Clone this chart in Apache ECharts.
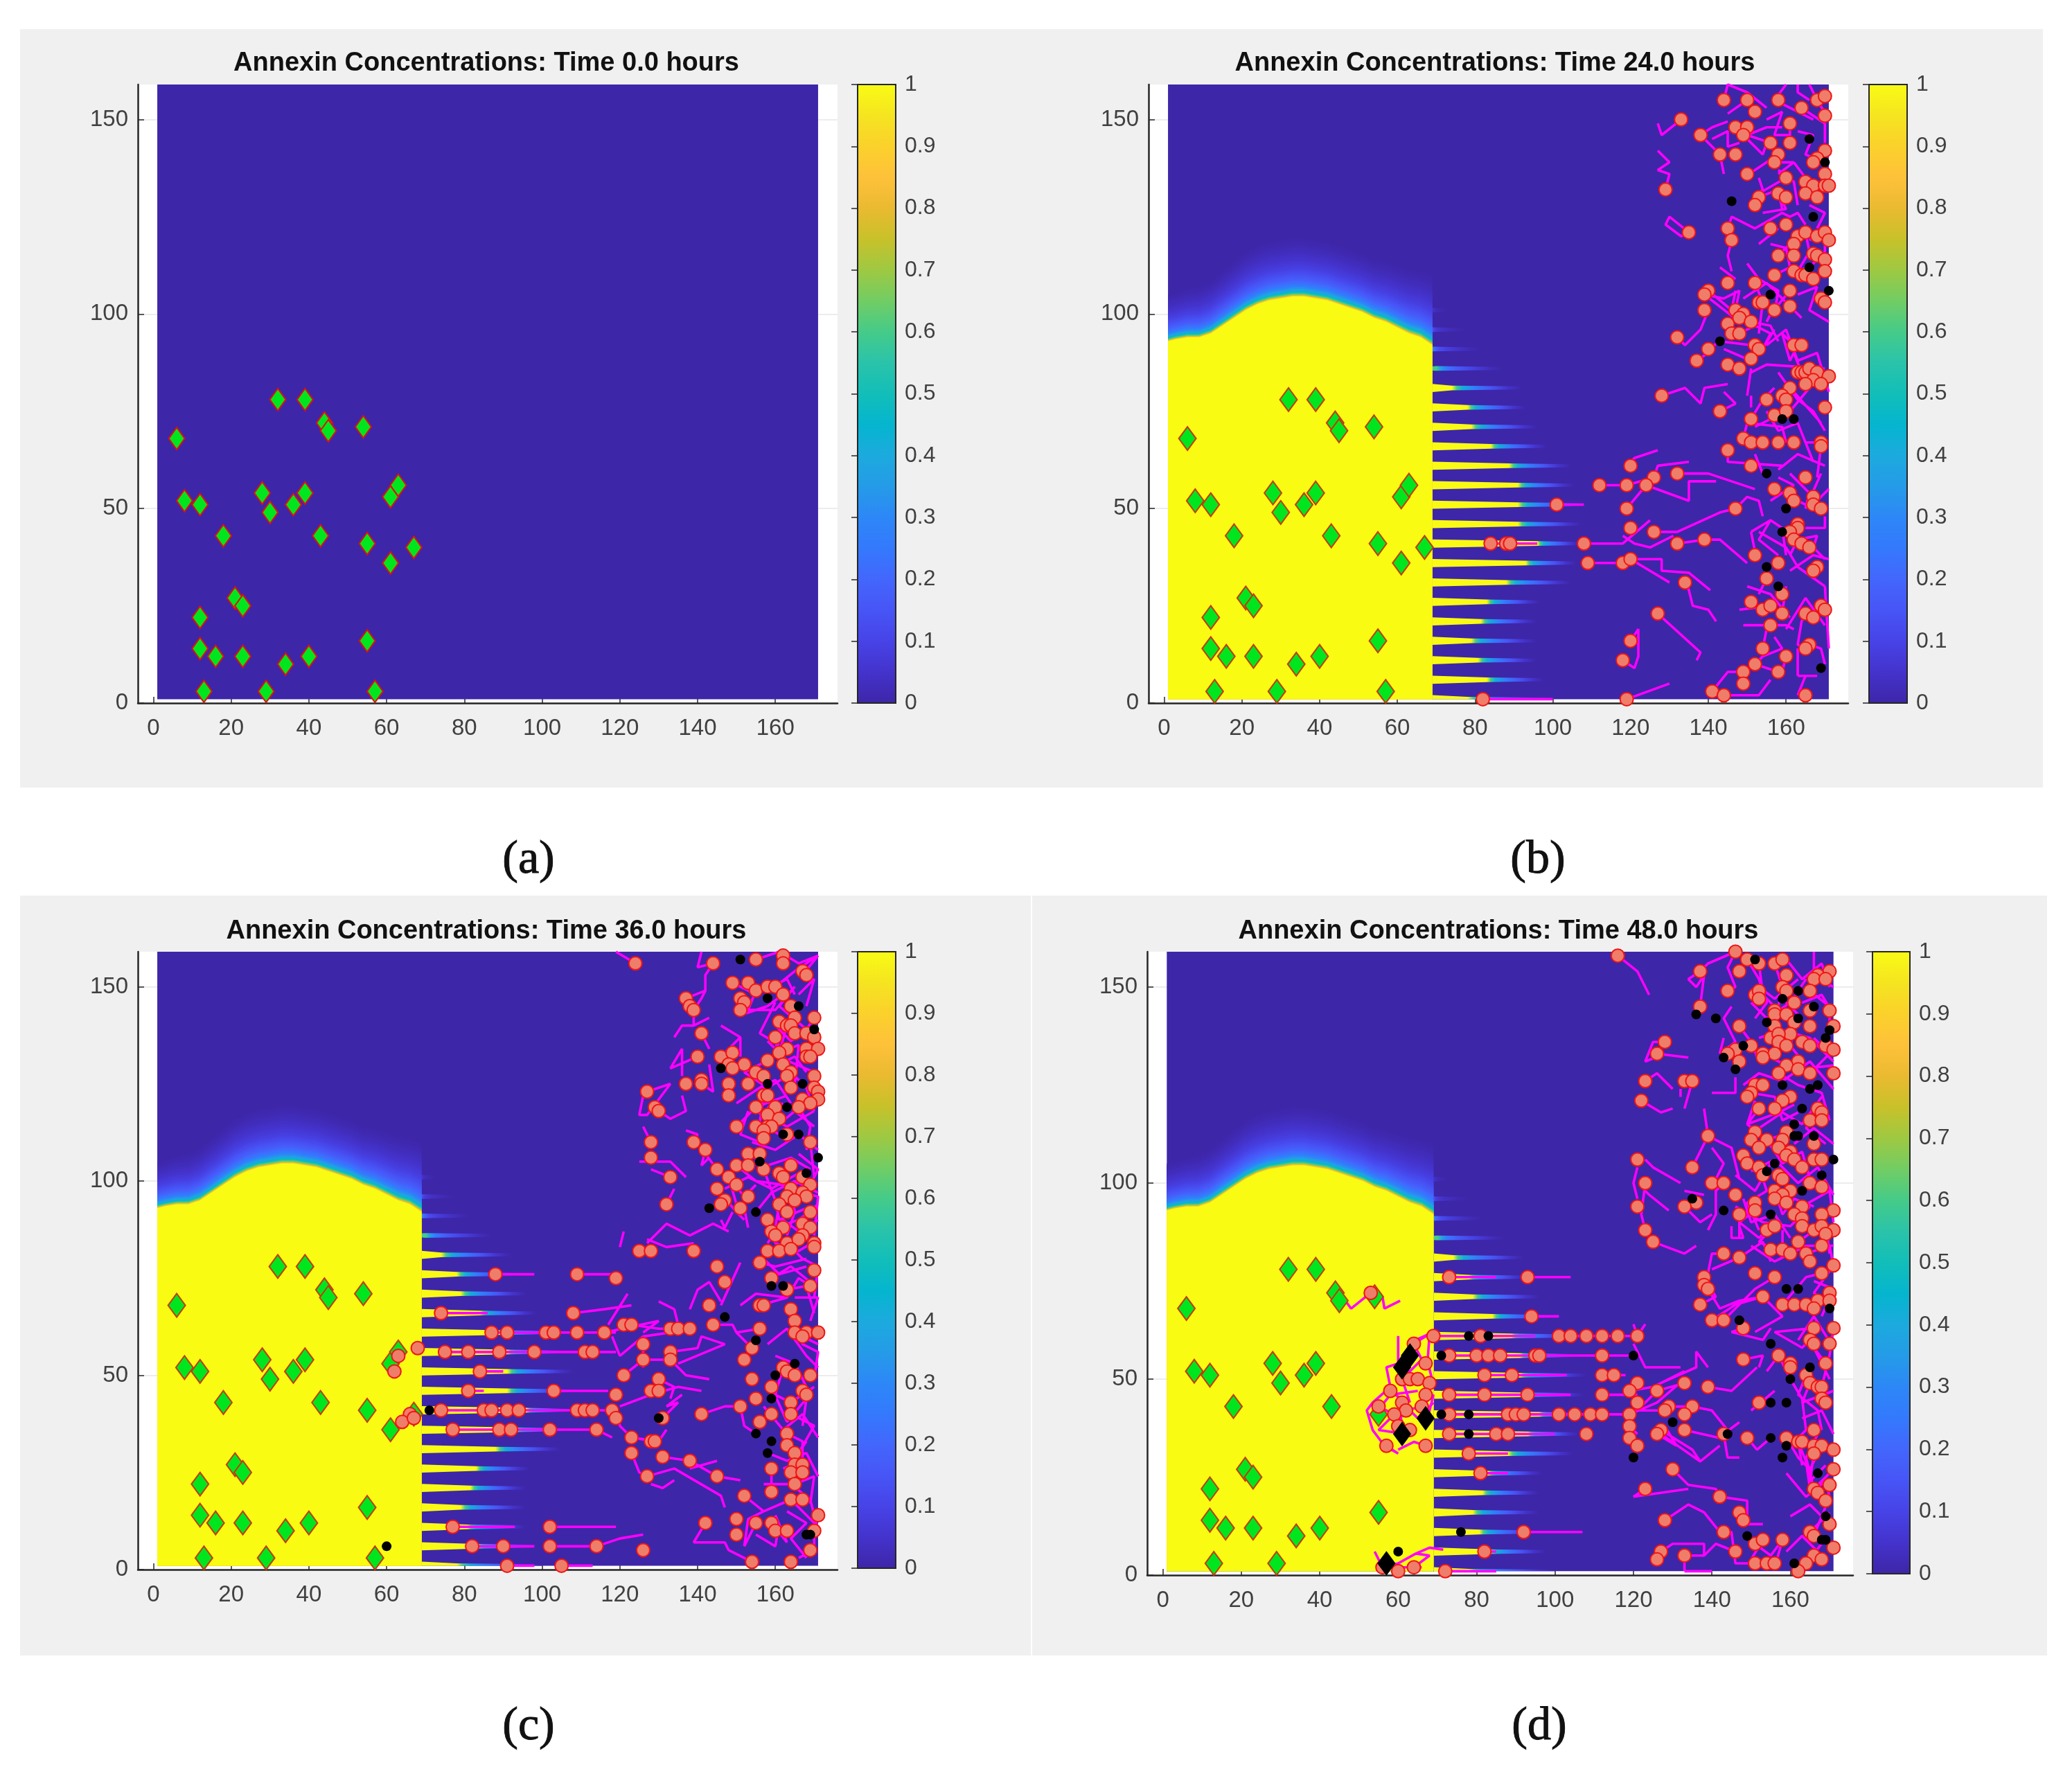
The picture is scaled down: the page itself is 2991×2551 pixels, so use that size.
<!DOCTYPE html>
<html>
<head>
<meta charset="utf-8">
<title>Annexin Concentrations</title>
<script src="https://cdn.jsdelivr.net/npm/echarts@6/dist/echarts.min.js"></script>
<style>
	html, body { margin: 0; padding: 0; background: #fff; }
	#chart { width: 2991px; height: 2551px; }
</style>
</head>
<body>
<div id="chart"></div>
<script>
// ticks
const xTicks = [0, 20, 40, 60, 80, 100, 120, 140, 160]
const yTicks = [0, 50, 100, 150]
const barTicks = [0, 0.1, 0.2, 0.3, 0.4, 0.5, 0.6, 0.7, 0.8, 0.9, 1]
const hours = ['0.0', '24.0', '36.0', '48.0']
const captions = ['(a)', '(b)', '(c)', '(d)']

// parula, sampled every 0.05
const parula = ['#3e26a8', '#4433cc', '#4743e7', '#4755f6', '#4366fc', '#3479fd', '#2d87f7', '#259be8', '#1caade', '#05b5cf', '#12beb9', '#2ac3aa', '#45cb89', '#71cd64', '#9ec942', '#c8c12a', '#eaba30', '#fec13a', '#fbd12b', '#f5e420', '#f9fb15']

const frontX = [1, 3, 6, 9, 12, 15, 18, 21, 24, 27, 30, 33, 36, 39, 42, 45, 48, 51, 54, 57, 60, 63, 66, 69]
const frontTop = [93, 93.5, 94, 94, 95, 97, 99, 101, 102.5, 103.5, 104, 104.5, 104.5, 104, 103.5, 102.5, 101.5, 100.5, 99, 98, 96.5, 95, 94, 92]
const frontFade = [12, 12, 12.5, 13, 13.5, 14, 14.5, 15, 15, 15, 15, 15, 15, 15, 15, 15, 15, 15, 15, 15.5, 16, 16.5, 17, 18]
const fadeFrac = [1, 0.96, 0.92, 0.88, 0.84, 0.8, 0.76, 0.72, 0.68, 0.64, 0.6, 0.56, 0.52, 0.48, 0.45, 0.42, 0.39, 0.36, 0.33, 0.3, 0.27, 0.245, 0.22, 0.195, 0.175, 0.155, 0.135, 0.12, 0.105, 0.09, 0.078, 0.066, 0.055, 0.045, 0.036, 0.028, 0.02, 0.013, 0.007]
const fadeValue = [0.004, 0.008, 0.012, 0.017, 0.022, 0.028, 0.034, 0.041, 0.048, 0.056, 0.065, 0.075, 0.086, 0.098, 0.11, 0.122, 0.135, 0.15, 0.165, 0.18, 0.2, 0.22, 0.24, 0.265, 0.29, 0.32, 0.35, 0.38, 0.41, 0.45, 0.49, 0.53, 0.58, 0.63, 0.68, 0.74, 0.8, 0.86, 0.92]

// finger rows right of the yellow block
const fingerY = [1, 6, 11, 16, 21, 26, 31, 36, 41, 46, 51, 56, 61, 66, 71, 76, 81, 86, 91, 96, 101]
const fingerYellowEnd = [78, 83, 80.7, 79, 81.5, 83, 88, 93, 96, 91, 91, 91, 88.7, 84, 79, 78, 74, 70, 69, 69, 69]
const fingerFadeEnd = [100, 97.6, 95.8, 95.8, 95.8, 96.7, 104.6, 106, 107, 107.3, 108, 105.5, 104.6, 98.5, 96, 93, 92, 87, 81.5, 78, 73]
const fingerStart = [1, 1, 1, 1, 1, 1, 1, 1, 1, 1, 1, 1, 1, 1, 1, 1, 1, 0.6, 0.3, 0.14, 0.07]

// green seed sites, same in all panels
const diamonds = [6,68, 8,52, 12,51, 18,43, 21,27, 23,25, 12,22, 12,14, 16,12, 23,12, 13,3, 29,3, 34,10, 40,12, 32,78, 39,78, 44,72, 45,70, 54,71, 28,54, 30,49, 36,51, 39,54, 43,43, 55,41, 61,53, 63,56, 67,40, 61,36, 55,16, 57,3]
const deadDiamondsD = [63,56, 61,53, 67,40, 61,36, 57,3]

const cellsB = [144,155, 150,155, 158,155, 164,153, 168,155, 170,156, 152,152, 170,151, 133,150, 147,148, 150,148, 161,149, 138,146, 149,146, 156,144, 161,144, 143,141, 147,141, 158,141, 170,142, 168,140, 157,139, 167,139, 150,136, 170,136, 160,135, 165,134, 167,133, 170,133, 171,133, 129,132, 158,131, 165,131, 153,130, 160,130, 168,130, 152,128, 135,121, 145,122, 146,119, 156,122, 160,123, 163,120, 165,121, 168,120, 170,121, 171,119, 162,118, 158,115, 162,115, 167,115.5, 168,115, 170,114, 162,111, 170,111, 157,110, 164,110, 165,110, 167,109, 145,108, 152,108, 161,106, 140,106, 139,105, 169,104, 170,103, 153,103, 154,103, 157,101, 161,102, 139,101, 147,101, 149,100, 148,99, 151,98, 145,97.5, 146,95, 148,95, 132,94, 152,92, 140,91, 153,91, 162,92, 164,92, 151,88.5, 137,88, 145,87, 148,86, 163,85, 164,85, 165,85, 166,86, 168,85, 171,84, 167,83, 165,82, 169,82, 161,81, 159,79, 128,79,
	143,75, 155,78, 160,78, 170,76, 151,73, 157,74, 160,75, 149,68, 151,67, 154,67, 158,67, 162,67, 169,67, 169,66, 145,65, 151,61, 120,61, 126,58, 132,59, 112,56, 119,56, 124,56, 165,58, 157,55, 161,54, 167,53, 162,52, 167,51, 169,50, 147,50, 119,50, 101,51, 120,45, 126,44, 163,46, 163,45, 161,44, 162,42, 164,41, 166,40, 132,41, 139,42, 108,41, 84,41, 88,41, 89,41, 152,38, 158,36, 168,35, 167,34, 109,36, 118,36, 120,37, 155,32, 134,31, 159,28, 151,26, 154,24, 156,25, 159,23, 165,23, 167,22, 169,25, 170,24, 127,23, 156,20, 154,14, 166,15, 165,14, 120,16, 118,11, 160,12, 152,10, 149,8, 158,8, 149,5, 141,3, 144,2, 165,2, 119,1, 82,1]
const blackB = [166,145, 170,139, 146,129, 167,125, 166,112, 156,105, 171,106, 143,93, 159,73, 162,73, 155,59, 160,50, 159,44, 155,35, 158,30, 169,9]
const trailsB = [
	[82,1, 100,1], [119,1, 130,5], [84,41, 96,41], [101,51, 108,51], [108,41, 118,41, 125,47], [118,43, 121,41, 125,40, 131,43], [132,41, 139,42, 143,42, 150,36], [109,36, 118,36],
	[120,37, 128,37, 128,34, 135,33.5, 140.5,29], [120,37, 130,31], [134,31, 135,29, 136,25, 140,24, 142,21], [127,23, 138,13, 137,11], [120,16, 122,19, 122,12, 121,9, 118,11], [119,50, 124,56], [120,62, 121,63, 127,65], [112,56, 119,56, 126,58],
	[126,58, 127,61, 135,62], [132,59, 140,59, 152,55], [124,56, 135,52, 135,57, 142,57], [147,50, 150,53, 153,52, 154,48], [126,44, 132,44, 143,49, 147,50], [133,150, 128,146, 127,149], [129,132, 130,136, 127,137, 130,139, 127,142], [135,121, 133,120, 129,123, 130,125, 135,121],
	[144,155, 145,159, 150,157, 155,153], [150,155, 145,151.5], [152,152, 150,155], [138,146, 141,148, 145,149.5], [138,146, 143,141, 144,136], [141,145, 145,147, 145,143, 148,144], [156,144, 150,146, 155,148, 159,148], [150,145, 154,141, 155,144, 158,141], [161,149, 161,144], [158,141, 152,137, 150,136],
	[164,153, 167,151, 170,149, 170,144], [163,159, 163,157, 166,155], [161,153, 167,150], [157,139, 162,139, 158,136], [162,139, 165,135], [160,135, 153,131], [153,135, 154,132, 153,131], [153,130, 158,132, 159,127], [158,131, 160,127, 154,126], [145,122, 146,125, 152,122, 159,126, 161,125, 163,126, 165,123],
	[146,119, 145,115, 146,111], [143,112, 147,109], [162,118, 163,120, 158,115], [165,121, 166,116, 163,111, 162,111], [170,121, 170,116, 166,112, 162,111], [168,120, 166,119], [157,110, 161,112], [139,105, 144,104, 148,106, 147,101], [139,105, 148,98], [140,106, 146,101], [147,106, 146,101],
	[151,98, 156,97, 158,93], [132,94, 134,92, 138,96, 140,101], [152,108, 154,103, 153,95], [148,95, 152,97, 156,95, 154,91, 157,96], [140,91, 143,93, 151,92], [144,91, 151,88], [161,106, 156,100, 155,98], [162,92, 159,95, 161,88, 162,90, 164,85], [151,85, 155,87, 170,86], [137,88, 140,90], [128,79, 134,81, 138,77, 139,81, 145,82], [151,86, 150,79],
	[143,75, 147,77, 144,80], [151,79, 151,76], [151,73, 154,78, 157,81], [162,80, 169,72], [166,81, 161,75], [149,68, 150,72, 159,71, 160,67], [152,71, 156,73], [145,65, 145,62, 159,61], [152,64, 154,59], [165,67, 169,67], [169,66, 168,58],
	[161,59, 166,54, 165,50, 169,59], [156,52, 162,56, 158,58], [171,55, 167,51], [167,50, 163,52], [165,45, 170,45, 170,48], [151,44, 152,39], [151,44, 156,47, 159,45, 160,38], [156,47, 153,42, 158,38], [161,38, 163,42, 168,43, 167,40, 170,37], [161,34, 167,38, 171,37],
	[155,32, 153,28], [160,30, 159,23], [148,24, 156,25], [149,20, 160,20, 162,19], [154,14, 155,19], [165,23, 164,21, 163,15, 165,14], [157,17, 159,14, 154,12, 151,9], [160,12, 159,8], [166,15, 169,14, 170,10], [163,7, 163,14], [163,7, 168,7], [165,7, 163,2], [144,2, 153,2, 156,6], [141,3, 145,8, 149,8], [149,8, 152,10, 158,8],
	[166,159, 168,155, 171,150], [160,159, 157,155, 161,153], [155,150, 159,152, 157,146, 161,146], [163,147, 167,146, 165,141, 170,139], [158,137, 162,134, 163,128], [166,128, 170,126, 168,122], [156,118, 160,117, 161,112, 166,108], [150,113, 153,109, 158,106, 157,100], [163,105, 168,107, 166,101, 171,98], [153,118, 158,122], [149,104, 155,108, 160,103, 164,99], [155,92, 160,96, 163,88, 168,90, 171,80], [158,85, 163,78, 167,75, 170,70], [155,75, 158,70, 163,72, 167,62], [158,60, 163,64, 170,61], [153,44, 160,40, 163,35, 170,30], [160,19, 165,27, 170,20], [150,30, 156,28, 161,22], [170,30, 171,14]
]

const cellsC = [124,156, 144,156, 155,157, 162,158, 162,156, 167,154, 168,153, 149,151, 153,151, 155,149, 158,150, 160,150, 162,148, 137,147, 151,147, 152,146, 138,145, 139,144, 151,144, 164,145, 170,142, 165,142, 161,141, 163,140, 164,140, 141,138, 165,138, 168,138, 160,137, 170,137, 163,134, 168,134, 171,134, 161,133, 168,132, 169,132, 140,132, 146,132, 149,133, 158,131, 148,130, 152,130, 149,129, 162,130, 155,128, 157,127, 164,128, 163,127, 170,127, 137,125, 141,126, 141,125, 148,125, 153,125, 164,124, 170,124, 171,123, 127,123, 148,122, 157,122, 158,122, 167,121, 171,121, 169,120, 129,119, 130,118, 155,119, 160,119, 166,119, 158,117, 161,116, 150,114, 155,114, 158,114, 159,114, 157,113, 157,111, 163,112, 128,110, 139,110, 169,110, 142,108, 128,106, 153,107, 156,107, 145,103, 150,104, 153,104, 157,103, 164,104, 161,102, 162,101, 148,101, 133,101, 167,101, 150,99, 169,99, 145,98, 164,98, 167,97, 163,96, 168,96, 153,96, 165,95, 161,94, 147,95, 146,94, 132,94, 151,93, 163,92, 169,92, 158,90, 167,89, 162,88, 169,88, 159,87, 160,86, 167,86, 163,84, 166,85, 170,84,
	125,82, 128,82, 139,82, 158,82, 161,82, 164,82.5, 170,83, 156,79, 145,78, 170,77, 88,76, 109,76, 119,75, 159,75, 147,74, 169,73, 163,72, 143,68, 156,68, 157,68, 108,66, 74,66, 164,67, 165,64, 121,63, 123,63, 87,61, 91,61, 101,61, 103,61, 109,61, 116,61, 133,62, 135,62, 138,62, 144,63, 156,62, 165,61, 168,61, 167,60, 171,61, 126,58, 68,57, 75,56, 81,56, 89,56, 98,56, 111,56, 113,56, 133,56, 154,57, 126,54, 133,54, 152,54, 121,50, 84,51, 162,52, 163,51, 165,50, 169,50, 130,49, 154,49, 159,47, 128,46, 130,46, 103,46, 81,46, 119,45, 167,46, 168,45, 155,44, 164,43, 151,42, 74,41, 85,41, 87,41, 91,41, 94,41, 109,41, 111,41, 113,41, 118,41, 159,40, 164,40, 141,40, 119,39, 131,39, 156,38, 77,36, 89,36, 92,36, 102,36, 114,36, 163,35, 163,32, 123,34, 128,33, 129,33, 123,30, 165,30, 131,29, 138,28, 165,27, 167,27, 159,26, 164,25, 167,25, 127,24, 145,24, 165,22, 159,20, 152,19, 164,18, 167,18, 171,14, 142,12, 150,13, 155,12, 159,12, 77,11, 102,11, 160,10, 163,10, 150,9, 170,10, 82,6, 90,6, 102,6, 114,6, 126,5, 169,5, 154,2, 164,2, 91,1, 105,1,
	62,51, 66,40, 64,38, 67,39, 63,55]
const blackC = [151,157, 158,147, 166,145, 170,139, 146,129, 158,125, 167,125, 163,119, 162,112, 166,112, 171,106, 156,105, 168,102, 143,93, 155,92, 147,65, 155,59, 159,73, 162,73, 165,53, 160,50, 159,44, 130,39, 155,35, 159,33, 158,30, 168,9, 169,9, 60,6, 71,41]
const trailsC = [
	[88,76, 98,76], [109,76, 119,76], [74,66, 86,66], [108,66, 116,67, 123,68], [117,63, 122,71], [87,61, 119,61], [75,56, 119,56], [84,51, 90,51], [81,46, 85,46], [103,46, 117,46], [74,41, 118,41], [77,36, 114,36, 118,34], [77,11, 93,11], [102,11, 119,11], [82,6, 98,6], [102,6, 114,6, 120,8, 126,9], [91,1, 98,1], [105,1, 113,1],
	[123,63, 130,62, 133,62], [116,61, 130,64, 126,61], [130,69, 134,67, 135,63], [138,67, 140,72, 143,74, 146,69], [146,68, 151,79], [118,60, 120,55, 126,60, 133,61], [126,58, 126,52], [133,56, 140,57, 141,60, 147,58, 135,53], [126,54, 133,54, 137,50, 143,49], [121,50, 126,54], [130,49, 134,47, 133,44], [120,42, 128,45, 135,47, 141,46], [131,39, 135,43, 132,42, 136,45],
	[119,42, 120,37, 123,34, 130,33, 132,36], [123,34, 129,33], [123,30, 125,25, 127,24], [127,24, 134,26, 146,19, 147,16], [128,22, 131,21, 134,23], [131,29, 138,28, 145,24], [138,26, 145,28], [145,24, 151,23], [142,12, 139,7, 147,7, 148,5, 154,2], [152,19, 157,15, 153,13, 152,6], [155,9, 160,6, 161,12], [164,18, 157,15], [141,40, 147,42, 151,42], [151,42, 152,37, 155,35], [156,62, 150,61, 154,57], [144,63, 149,63, 150,61], [151,68, 155,71, 163,70],
	[124,156, 119,159], [144,156, 140,155, 141,159], [144,156, 142,153, 142,149, 141,147, 139,144], [137,147, 142,149], [139,144, 139,140, 143,142], [139,140, 136,140, 134,137], [141,138, 143,134], [146,132, 151,137, 146,140], [151,137, 151,132], [140,132, 133,129, 136,134, 136,127], [141,125, 144,123, 143,130], [127,123, 133,125, 127,117, 125,117, 126,122], [130,118, 133,116, 137,118, 136,122], [128,110, 126,114], [139,110, 140,112, 137,113], [142,108, 141,104, 143,106], [128,105, 125,105, 133,105, 137,101], [133,101, 128,103], [132,94, 134,98], [145,103, 142,107], [148,101, 150,94], [146,90, 147,88, 149,92], [152,93, 153,88], [127,84, 132,89, 138,86, 144,89, 148,87], [139,84, 132,83, 127,85], [121,87, 120,83],
	[151,147, 152,143, 158,145, 162,148], [155,149, 153,144, 160,144, 165,150], [149,151, 155,148, 163,152, 165,148], [165,150, 161,145, 168,139, 170,142], [160,150, 165,154, 171,158, 167,153], [155,157, 161,159, 166,156, 171,158], [160,137, 161,130, 165,132, 168,128], [163,140, 161,133, 166,135, 165,125], [158,131, 152,128, 158,124, 163,127], [155,128, 159,120, 156,116], [164,128, 168,124, 170,118], [157,122, 156,115, 161,112], [150,114, 155,119, 163,122], [155,119, 159,113, 165,118, 170,114], [169,110, 170,101], [166,119, 169,114, 168,108],
	[153,107, 158,104, 164,106, 169,103], [150,104, 155,100, 162,99, 170,100], [148,101, 152,96, 155,99], [145,98, 150,92, 152,90], [157,103, 160,95, 161,90, 168,93], [161,94, 160,88, 166,90, 171,94], [164,98, 165,92, 163,86], [158,90, 160,84, 166,82, 171,85], [167,97, 171,96, 170,86], [163,84, 167,80, 171,78, 170,70], [156,79, 160,78, 168,80], [159,75, 164,78, 169,74], [163,72, 168,73, 170,66], [165,64, 167,58, 171,56, 170,49], [156,68, 163,70, 166,75, 169,73], [165,61, 171,58], [162,52, 160,45, 164,43, 170,47], [159,47, 163,38, 168,44, 167,37], [164,40, 170,37, 166,30, 168,33], [163,35, 167,33, 167,28, 162,26], [159,26, 159,20], [165,22, 170,24, 169,17], [164,18, 170,12, 170,5, 166,3], [159,12, 163,7, 160,14], [155,12, 152,6],
	[160,140, 164,136, 169,139], [158,136, 163,131, 170,128], [150,120, 156,124, 160,126, 164,120], [154,110, 160,108, 166,112, 171,108], [147,98, 153,101, 159,98, 166,102], [155,92, 159,97, 165,100, 171,97], [158,84, 162,90, 166,87, 171,90], [157,80, 161,76, 168,78], [165,70, 171,70, 169,64], [158,58, 163,62, 168,55, 171,52], [160,55, 165,53, 169,45], [157,42, 162,36, 167,40, 171,34], [158,30, 163,28, 168,30, 171,24], [157,22, 164,22, 169,18, 171,10], [163,15, 168,12, 164,8, 168,3], [160,146, 156,138, 161,135], [166,148, 170,152, 168,145], [162,120, 157,117, 163,114, 170,118], [153,118, 151,112, 156,110], [166,107, 171,103, 167,95]
]

const cellsD = [116,158, 146,159, 149,157, 152,156, 156,156, 158,157, 137,154, 147,154, 159,153, 170,154, 167,153, 166,152, 169,152, 144,149, 151,148, 152,149, 152,147, 158,150, 159,149, 165,149, 161,146, 137,145, 170,144, 156,144, 156,143, 165,144, 159,143, 161,141, 147,140, 156,140, 165,140, 171,140, 160,138, 155,137, 157,138, 157,136, 128,136, 163,136, 165,135, 159,135, 169,135, 171,134, 126,133, 150,135, 146,134, 144,133, 153,133, 156,133, 153,132, 147,131, 162,131, 159,130, 162,129, 157,128, 165,128, 171,128, 123,126, 133,126, 135,126, 151,125, 153,125, 150,123, 149,122, 160,122, 158,121, 122,121, 152,119, 156,119, 167,119, 168,118, 165,116, 168,116, 159,113, 151,113, 139,112, 154,111, 150,111, 158,111, 152,109, 157,109, 166,110, 148,107, 160,108, 159,107, 161,106, 166,106, 168,106, 121,106, 149,105, 135,104, 163,104, 152,104, 153,102, 157,102, 158,101, 123,100, 140,100, 143,100, 165,100, 168,99, 156,98, 160,98, 158,97, 146,97, 156,96, 136,95, 133,94, 121,94, 159,95, 151,95, 163,94, 171,93, 151,93, 147,92, 161,92, 168,92, 163,91, 123,88, 125,85, 154,88, 156,89, 163,89, 166,88, 168,89, 171,88, 169,87, 162,85, 168,84, 143,82, 147,81, 155,83, 158,83, 160,82, 164,82, 165,80, 171,79,
	73,76, 93,76, 138,76, 151,77, 156,76, 168,77, 138,74, 139,73, 53,72, 170,72, 137,69, 153,71, 158,69, 161,69, 164,69, 167,70, 170,70, 166,68, 94,66, 140,65, 143,65, 148,63, 166,63, 171,63, 165,60, 166,59, 170,59, 69,61, 81,61, 101,61, 104,61, 108,61, 112,61, 116,61, 121,61, 64,59, 67,54, 73,56, 80,56, 83,56, 86,56, 95,56, 96,56, 112,56, 148,55, 157,56, 160,54, 160,53, 169,54, 82,51, 89,51, 112,51, 115,51, 164,51, 61,50, 63,50, 65,50, 68,49, 121,49, 165,49, 167,48, 168,48, 139,48, 133,49, 126,47, 119,47, 58,47, 73,46, 82,46, 93,46, 112,46, 67,46, 152,44, 168,45, 169,44, 61,44, 121,44, 129,43, 135,43, 133,41, 128,42, 66,43, 73,41, 88,41, 90,41, 92,41, 101,41, 105,41, 109,41, 112,41, 119,41, 62,42, 59,41, 55,43, 119,38, 63,37, 60,38, 127,37, 126,36, 133,37, 166,37, 143,36, 149,35, 159,35, 119,35, 121,33, 73,36, 85,36, 88,36, 108,36, 162,34, 163,34, 166,33, 168,33, 171,32, 166,31, 57,33, 67,33, 78,31, 130,27, 171,27, 81,26, 170,23, 166,22, 167,21, 123,22, 142,20, 169,19, 147,16, 148,14, 128,14, 170,13, 143,11, 92,11, 165,11, 166,10, 151,8, 153,9, 158,9, 127,6, 82,6, 146,6, 171,7, 126,4, 133,5, 166,5, 168,4, 151,3, 154,3, 156,3, 164,3, 162,1, 72,1, 60,1, 64,2, 56,2]
const blackD = [151,157, 162,149, 158,147, 166,145, 136,143, 141,142, 154,141, 162,142, 170,139, 169,137, 148,135, 143,132, 146,129, 158,125, 165,124, 167,125, 163,119, 161,115, 161,112, 162,112, 166,112, 171,106, 156,105, 154,103, 168,102, 163,98, 135,96, 143,93, 155,92, 159,73, 162,73, 170,68, 147,65, 155,59, 78,61, 83,61, 71,56, 120,56, 165,53, 160,50, 155,44, 159,44, 71,41, 78,41, 130,39, 144,36, 78,36, 155,35, 159,33, 120,30, 158,30, 167,26, 169,15, 149,10, 76,11, 168,9, 169,9, 60,6, 161,3]
const trailsD = [
	[73,76, 85,76], [93,76, 104,76], [94,66, 101,66], [69,61, 95,61], [101,61, 121,61], [73,56, 112,56, 120,56], [82,51, 103,51], [112,51, 118,51], [73,46, 104,46], [112,46, 121,46], [73,41, 119,41], [73,36, 100,36], [78,31, 88,31], [81,26, 88,26], [92,11, 107,11], [82,6, 85,6], [72,1, 85,1], [133,1, 140,1],
	[60,61, 60,54, 57,53, 58,48, 53.5,44, 52,42, 53.5,37, 56.5,33, 60,31, 57,33], [69,62, 64.5,60, 62,56, 63,58.5, 68,61.5, 67.5,54.5, 69,48.5, 64.5,51], [60,50, 67,49, 69,45], [61,44, 65,40, 69,44], [62,42, 66,43, 69,46, 67,38], [67,33, 64,34, 60,32], [53,72, 48,68, 46.5,70], [56,71, 56.5,68, 60.5,70], [55,43, 59,41, 55,37, 62,36, 60,42], [58,47, 62,44, 60,38], [54,41, 58,46, 65,47], [64,59, 66,55, 61,50, 63,44], [54,6, 56,2, 60,3, 64.5,5.5, 68,7, 71.5,6.5], [58,2, 64,2, 68,5, 64.5,5.5], [64,2, 66,2],
	[120,59, 123,53, 132,53], [121,61, 120,64], [121,61, 123,64], [127,49, 136,53, 136,57, 139,53], [126,47, 133,49], [139,48, 145,47, 151.5,53], [119,47, 125,48, 133,52], [119,41, 126,44, 133,50], [121,44, 119,38, 121,36], [126,47, 121,42, 128,42], [129,43, 135,43, 140,42, 144,37], [143,36, 147,39], [149,35, 151.5,32, 155,35], [133,37, 142,35, 143,36], [127,36, 137,29, 142,33], [143,36, 144,30, 147,30], [127,37, 135,32, 137,29], [126,36, 131,33, 128,38],
	[130,27, 134,23, 141,22, 142,20], [123,22, 120,20, 134,22], [142,20, 149,19, 149,13, 153,13], [128,14, 134,18, 138,16, 142,11], [143,11, 145,11, 146,3, 151,3], [127,6, 130,8, 138,8, 138,5], [133,5, 133,1], [133,5, 138,5, 141,8, 146,6], [151,8, 155,5, 158,9, 156,2], [153,9, 150,4, 156,3], [164,3, 168,8, 165,11, 170,16], [166,10, 170,20, 169,24], [166,22, 164,30, 167,36], [171,27, 167,23, 169,19], [162,34, 164,29, 165,22],
	[116,158, 121,154, 124,148], [137,154, 134,152, 136,150, 138,153, 137,145], [146,159, 139,156, 137,154], [128,136, 125,136, 123,131, 128,133], [126,133, 134,132], [123,126, 126,128, 130,124], [135,126, 133,119], [132,124, 132,122], [122,121, 127,118, 130,119], [139,112, 138,119], [135,104, 139,112], [139,112, 145,109, 147,101], [140,109, 143,105, 141,101], [123,106, 125,104, 132,100], [121,104, 120,100, 121,96], [123,100, 122,92, 123,88], [123,98, 124,97, 129,93], [125,85, 133,82, 136,84], [143,100, 141,98, 141,92, 139,88], [133,94, 137,90, 140,92], [133,98, 138,97], [143,82, 140,82, 139,77], [147,81, 140,78], [145,89, 145,86, 148,86, 147,89], [147,92, 147,86],
	[145,145, 143,142, 146,136, 142,133], [143,137, 142,133], [140,123, 146,123, 146,127], [151,121, 149,115, 157,118, 161,120], [146,159, 144,155, 146,150, 144,149], [149,157, 152,152, 154,146, 151,142], [152,156, 153,148, 157,144], [156,156, 158,150, 156,141], [159,157, 163,152, 168,156, 170,150], [166,159, 166,153, 171,150], [165,149, 170,145, 170,140], [158,147, 162,143, 160,135, 164,130], [147,140, 150,136, 152,131, 156,133], [153,133, 159,130, 162,129, 171,130], [165,128, 170,133, 166,137], [157,128, 162,125, 168,123, 170,116], [150,123, 156,122, 158,116, 162,118], [167,119, 164,114, 169,110], [152,119, 149,115, 154,111, 160,113], [154,111, 158,105, 163,108, 165,101], [148,107, 152,104, 154,98, 149,95, 152,88], [156,98, 158,92, 161,96, 166,94], [163,94, 170,98, 171,90], [151,93, 147,90, 152,86, 157,91], [156,89, 152,85, 158,82, 158,88], [162,85, 169,90, 170,82], [148,96, 150,90, 156,92, 160,86], [164,82, 170,84, 171,79], [147,81, 153,85, 155,80],
	[138,76, 141,71, 137,69], [139,73, 142,68, 147,70, 153,71], [140,65, 146,69, 153,71, 158,66, 151,62], [143,65, 151,73, 156,76], [148,63, 145,62, 153,60, 155,63], [166,63, 156,62, 163,58, 165,60], [171,63, 170,56, 168,48], [169,54, 166,58, 170,50], [171,79, 166,72, 171,68], [158,69, 164,76, 168,77], [148,55, 153,56, 152,53], [157,56, 154,52], [164,51, 162,46, 167,42, 168,37], [165,49, 163,44, 171,47], [157,56, 160,50, 163,45, 164,37, 160,33], [159,35, 162,30, 165,27, 168,33], [166,31, 165,24, 169,28], [162,34, 163,28],
	[150,146, 154,142, 160,146, 164,152], [148,125, 152,128, 158,126, 165,131, 171,124], [152,114, 158,118, 163,115, 168,122], [150,103, 156,106, 162,100, 167,104, 171,97], [146,94, 153,90, 160,89, 165,94], [150,84, 156,80, 164,84, 171,84], [166,75, 171,73, 168,66], [162,60, 166,66, 171,58], [150,42, 156,47], [163,40, 168,42, 171,36], [159,26, 164,20, 169,24], [160,15, 165,18, 171,12], [159,6, 163,10, 168,5], [152,150, 156,147, 162,152], [163,146, 168,148, 171,143], [152,137, 158,139, 165,137, 171,131], [146,102, 151,98, 155,105], [161,110, 166,114, 171,110]
]

// MATLAB-like figure layout, measured on the reference
const panels = [
	{ left: 199, width: 1010, top: 122, height: 893, barLeft: 1238, barW: 55, barTop: 122, barH: 893, titleX: 702, titleY: 73, capX: 763, capY: 1208 },
	{ left: 1658, width: 1010, top: 122, height: 893, barLeft: 2698, barW: 55, barTop: 122, barH: 893, titleX: 2158, titleY: 73, capX: 2220, capY: 1208 },
	{ left: 199, width: 1010, top: 1374, height: 892, barLeft: 1238, barW: 55, barTop: 1374, barH: 890, titleX: 702, titleY: 1326, capX: 763, capY: 2459 },
	{ left: 1656, width: 1019, top: 1374, height: 900, barLeft: 2703, barW: 54, barTop: 1374, barH: 898, titleX: 2163, titleY: 1326, capX: 2222, capY: 2459 }
]

const labelFont = 'Liberation Sans'
const labelColor = '#404040'
const lineColor = '#262626'

const toPairs = (flat) => {
	const out = []
	for (let i = 0; i < flat.length; i += 2) out.push([flat[i], flat[i + 1]])
	return out
}

// color for a value on the colorbar scale
const colorAt = (v) => {
	const t = Math.min(Math.max(v, 0), 1) * (parula.length - 1)
	const i = Math.min(Math.floor(t), parula.length - 2)
	const f = t - i
	const a = echarts.color.parse(parula[i])
	const b = echarts.color.parse(parula[i + 1])
	return 'rgb(' + [0, 1, 2].map((k) => Math.round(a[k] + (b[k] - a[k]) * f)).join(',') + ')'
}

// field polygons in data coordinates
const fieldPolys = (hasFront) => {
	const polys = [{ pts: [[1, 1], [171, 1], [171, 159], [1, 159]], fill: colorAt(0) }]
	if (!hasFront) return polys
	fingerY.forEach((y, i) => {
		const a = fingerYellowEnd[i]
		const b = fingerFadeEnd[i]
		const t = (a - 69) / (b - 69)
		const s = fingerStart[i]
		const colorStops = [
			{ offset: 0, color: colorAt(s) },
			{ offset: t, color: colorAt(s) },
			{ offset: t + (1 - t) * 0.07, color: colorAt(s * 0.6) },
			{ offset: t + (1 - t) * 0.15, color: colorAt(s * 0.42) },
			{ offset: t + (1 - t) * 0.32, color: colorAt(s * 0.27) },
			{ offset: t + (1 - t) * 0.56, color: colorAt(s * 0.15) },
			{ offset: t + (1 - t) * 0.8, color: colorAt(s * 0.05) },
			{ offset: 1, color: colorAt(0) }
		]
		const w = s < 1 ? 0.55 : 1.05
		const bottom = Math.max(y - w, 1)
		polys.push({
			pts: [[69, bottom], [a, Math.max(y - 0.6, 1)], [b, Math.max(y - 0.4, 1)], [b, y + 0.4], [a, y + 0.6], [69, y + w]],
			fill: new echarts.graphic.LinearGradient(0, 0, 1, 0, colorStops)
		})
	})
	fadeFrac.forEach((f, k) => {
		const pts = frontX.map((x, i) => [x, frontTop[i] + f * frontFade[i]])
		polys.push({ pts: [[1, 1]].concat(pts, [[69, 1]]), fill: colorAt(fadeValue[k]) })
	})
	polys.push({ pts: [[1, 1]].concat(frontX.map((x, i) => [x, frontTop[i]]), [[69, 1]]), fill: '#f9fb12' })
	return polys
}

const fieldSeries = (idx, polys) => ({
	type: 'custom',
	xAxisIndex: idx,
	yAxisIndex: idx,
	coordinateSystem: 'cartesian2d',
	data: polys.map((p, i) => [i, 0]),
	silent: true,
	z: 2,
	animation: false,
	renderItem: (params, api) => {
		const p = polys[params.dataIndex]
		return {
			type: 'polygon',
			shape: { points: p.pts.map((q) => api.coord(q)) },
			style: { fill: p.fill }
		}
	}
})

const trailSeries = (idx, trails) => {
	const data = []
	trails.forEach((t) => {
		toPairs(t).forEach((p) => data.push(p))
		data.push(['-', '-'])
	})
	return {
		type: 'line',
		xAxisIndex: idx,
		yAxisIndex: idx,
		data,
		symbol: 'none',
		connectNulls: false,
		lineStyle: { color: '#ff00ff', width: 3.6 },
		silent: true,
		z: 3,
		animation: false
	}
}

const scatter = (idx, pairs, symbol, size, color, border, bw, z) => ({
	type: 'scatter',
	xAxisIndex: idx,
	yAxisIndex: idx,
	data: pairs,
	symbol,
	symbolSize: size,
	clip: false,
	silent: true,
	z,
	animation: false,
	itemStyle: { color, borderColor: border, borderWidth: bw, opacity: 1 }
})

const barStops = parula.map((c, i) => ({ offset: 1 - i / (parula.length - 1), color: c }))

const grid = []
const xAxis = []
const yAxis = []
const series = []
const title = []
const graphic = [
	{ type: 'rect', shape: { x: 29, y: 42, width: 2920, height: 1095 }, style: { fill: '#f0f0f0' }, z: -10, silent: true },
	{ type: 'rect', shape: { x: 29, y: 1293, width: 1459, height: 1097 }, style: { fill: '#f0f0f0' }, z: -10, silent: true },
	{ type: 'rect', shape: { x: 1490, y: 1293, width: 1465, height: 1097 }, style: { fill: '#f0f0f0' }, z: -10, silent: true }
]

const cells = [[], cellsB, cellsC, cellsD]
const blacks = [[], blackB, blackC, blackD]
const trails = [[], trailsB, trailsC, trailsD]

panels.forEach((p, i) => {
	grid.push({ show: true, left: p.left, top: p.top, width: p.width, height: p.height, backgroundColor: '#fff', borderWidth: 0, containLabel: false })
	const ax = {
		axisLine: { onZero: false, lineStyle: { color: lineColor, width: 2.5 } },
		axisTick: { inside: true, length: 9, lineStyle: { color: lineColor, width: 1.5 } },
		axisLabel: { fontFamily: labelFont, fontSize: 33, color: labelColor }
	}
	xAxis.push({
		...ax,
		gridIndex: i,
		type: 'value',
		min: -4,
		max: -4 + 180,
		axisTick: { ...ax.axisTick, customValues: xTicks },
		axisLabel: { ...ax.axisLabel, customValues: xTicks, margin: 20 },
		splitLine: { show: false }
	})
	yAxis.push({
		...ax,
		gridIndex: i,
		type: 'value',
		min: 0,
		max: 159,
		axisTick: { ...ax.axisTick, customValues: yTicks },
		axisLabel: { ...ax.axisLabel, customValues: yTicks, margin: 14, padding: [8, 0, 0, 0] },
		splitLine: { show: true, lineStyle: { color: '#e6e6e6', width: 1.5 } }
	})
	title.push({
		text: 'Annexin Concentrations: Time ' + hours[i] + ' hours',
		left: p.titleX,
		top: p.titleY,
		textAlign: 'center',
		padding: 0,
		textStyle: { fontFamily: labelFont, fontWeight: 'bold', fontSize: 38, color: '#111' }
	})
	title.push({
		text: captions[i],
		left: p.capX,
		top: p.capY,
		textAlign: 'center',
		padding: 0,
		textStyle: { fontFamily: 'Liberation Serif', fontWeight: 'normal', fontSize: 68, color: '#111', textBorderColor: '#111', textBorderWidth: 1 }
	})
	series.push(fieldSeries(i, fieldPolys(i > 0)))
	if (i > 0) series.push(trailSeries(i, trails[i]))
	const alive = i === 3 ? toPairs(diamonds).filter((d) => !toPairs(deadDiamondsD).some((k) => k[0] === d[0] && k[1] === d[1])) : toPairs(diamonds)
	series.push(scatter(i, alive, 'diamond', i === 0 ? [23, 32] : [25, 34], '#00e61e', i === 0 ? '#e01010' : '#c8380c', 2, 4))
	if (i === 3) series.push(scatter(i, toPairs(deadDiamondsD), 'diamond', [25, 34], '#000', '#000', 1, 6))
	if (i > 0) {
		series.push(scatter(i, toPairs(cells[i]), 'circle', 19, '#ee7d6a', '#f01414', 2, 5))
		series.push(scatter(i, toPairs(blacks[i]), 'circle', 14, '#000', '#000', 0, 7))
	}
})

// colorbars
panels.forEach((p, i) => {
	const k = panels.length + i
	grid.push({ show: true, left: p.barLeft, top: p.barTop, width: p.barW, height: p.barH, backgroundColor: 'transparent', borderColor: lineColor, borderWidth: 2, containLabel: false, z: 5 })
	xAxis.push({ gridIndex: k, type: 'value', min: 0, max: 1, show: false })
	yAxis.push({
		gridIndex: k,
		type: 'value',
		position: 'right',
		min: 0,
		max: 1,
		axisLine: { show: false },
		axisTick: { inside: true, length: 9, lineStyle: { color: lineColor, width: 1.5 }, customValues: barTicks },
		axisLabel: { fontFamily: labelFont, fontSize: 32, color: labelColor, margin: 13, customValues: barTicks, formatter: (v) => String(v), padding: [9, 0, 0, 0] },
		splitLine: { show: false }
	})
	series.push({
		type: 'custom',
		xAxisIndex: k,
		yAxisIndex: k,
		data: [[0, 0, 1, 1]],
		silent: true,
		z: 1,
		animation: false,
		renderItem: (params, api) => {
			const a = api.coord([api.value(0), api.value(1)])
			const b = api.coord([api.value(2), api.value(3)])
			return {
				type: 'rect',
				shape: { x: a[0], y: b[1], width: b[0] - a[0], height: a[1] - b[1] },
				style: { fill: new echarts.graphic.LinearGradient(0, 0, 0, 1, barStops) }
			}
		}
	})
})

const chart = echarts.init(document.getElementById('chart'))
chart.setOption({
	animation: false,
	backgroundColor: '#fff',
	title,
	grid,
	xAxis,
	yAxis,
	series,
	graphic
})
window.addEventListener('resize', () => {
	if (chart) chart.resize()
})
</script>
</body>
</html>
